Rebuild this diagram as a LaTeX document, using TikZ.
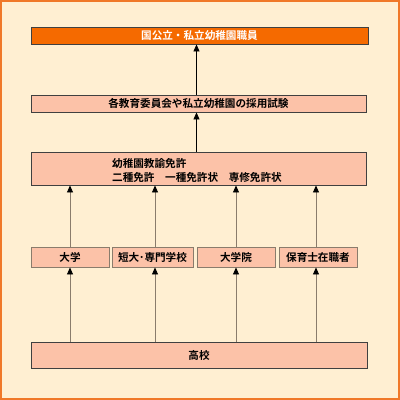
\documentclass[tikz,border=0pt]{standalone}
\usepackage{fontspec}
\setmainfont{Noto Sans CJK JP}[BoldFont={* Bold}]
\usetikzlibrary{arrows.meta}
\definecolor{bgc}{HTML}{FFEFD2}
\definecolor{frame}{HTML}{F07828}
\definecolor{topc}{HTML}{F56A00}
\definecolor{boxc}{HTML}{FCC2A8}
\definecolor{edgec}{HTML}{404040}
\definecolor{greyl}{HTML}{8A7C6C}
\tikzset{
  box/.style={draw=edgec, line width=0.9pt, fill=boxc, inner sep=0pt, font=\fontsize{10.6}{12}\selectfont\bfseries, text=black},
  arr/.style={line width=0.8pt, -{Triangle[width=6pt,length=7pt,color=black]}},
}
\begin{document}
\begin{tikzpicture}[x=1pt,y=-1pt]
\useasboundingbox (0,0) rectangle (400,400);
\fill[bgc] (0,0) rectangle (400,400);
\draw[frame, line width=2pt] (1,1) rectangle (399,399);
\node[box, fill=topc, text=white, minimum width=337pt, minimum height=17pt] (top) at (199.5,35.5) {国公立・私立幼稚園職員};
\node[box, minimum width=335pt, minimum height=17pt] (exam) at (198.5,103.5) {各教育委員会や私立幼稚園の採用試験};
\node[box, minimum width=335pt, minimum height=33pt] (lic) at (198.5,168.5) {};
\node[anchor=west, inner sep=0pt, align=left, font=\fontsize{10.6}{14}\selectfont\bfseries] (lictext) at (112,170) {幼稚園教諭免許\\二種免許\quad 一種免許状\quad 専修免許状};
\node[box, draw=greyl, minimum width=78pt, minimum height=20pt] (u1) at (70,257) {大学};
\node[box, draw=greyl, minimum width=81pt, minimum height=20pt] (u2) at (152.5,257) {短大･専門学校};
\node[box, draw=greyl, minimum width=78pt, minimum height=20pt] (u3) at (236,257) {大学院};
\node[box, draw=greyl, minimum width=78pt, minimum height=20pt] (u4) at (318,257) {保育士在職者};
\node[box, minimum width=336pt, minimum height=26pt] (hs) at (199,355) {高校};
\coordinate (c1) at (70,0);
\coordinate (c2) at (155,0);
\coordinate (c3) at (236,0);
\coordinate (c4) at (316,0);
\coordinate (cm) at (196.5,0);
\draw[arr, black] (exam.north -| cm) -- (top.south -| cm);
\draw[arr, black] (lic.north -| cm) -- (exam.south -| cm);
\foreach \i in {1,2,3,4} {
  \draw[arr, greyl] (u\i.north -| c\i) -- (lic.south -| c\i);
  \draw[arr, greyl] (hs.north -| c\i) -- (u\i.south -| c\i);
}
\end{tikzpicture}
\end{document}
